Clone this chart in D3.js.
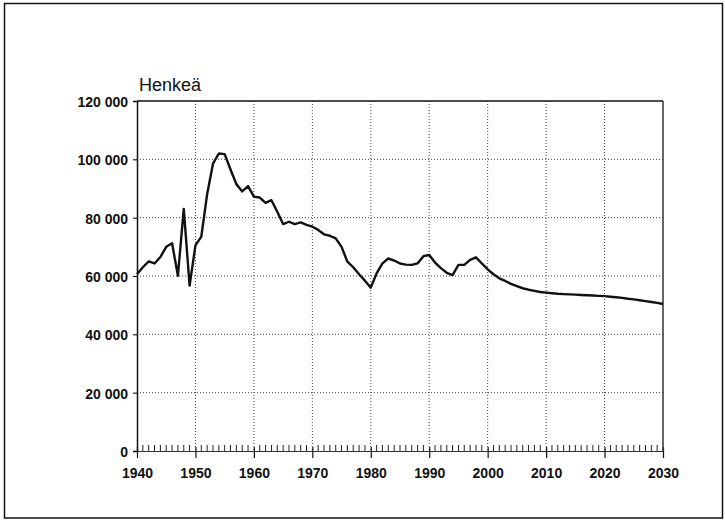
<!DOCTYPE html>
<html><head><meta charset="utf-8">
<script src="https://cdn.jsdelivr.net/npm/d3@7/dist/d3.min.js"></script>
<style>body{margin:0;background:#fff}svg{display:block}</style>
</head><body>
<svg id="c" width="725" height="521"></svg>
<script>
const years = d3.range(1940, 2031);
const values = [
 60600,63000,65000,64300,66500,70000,71200,60100,83000,56700,
 70500,73500,88000,98500,102000,101800,96500,91500,89000,90800,
 87200,86900,85100,86000,82000,77800,78600,77800,78400,77500,
 76900,75800,74300,73800,72900,70000,64900,63000,60600,58400,
 56000,60900,64300,66000,65300,64300,63900,63800,64300,66800,
 67200,64600,62700,61100,60300,63800,63800,65500,66400,64300,
 62300,60600,59200,58300,57300,56500,55800,55300,54900,54500,
 54300,54100,53900,53800,53700,53600,53500,53400,53300,53200,
 53100,52900,52700,52500,52200,52000,51700,51400,51100,50800,
 50400];
const xTicks = [1940,1950,1960,1970,1980,1990,2000,2010,2020,2030];
const yTicks = [0,20000,40000,60000,80000,100000,120000];
const yTitle = "Henkeä";

const svg = d3.select("#c");
const L = 137, R = 663, T = 101, B = 451;
const x = d3.scaleLinear().domain([1940, 2030]).range([L, R]);
const y = d3.scaleLinear().domain([0, 120000]).range([B, T]);
const fmt = v => d3.format(",")(v).replace(/,/g, " ");
const FONT = "Liberation Sans, Arial, Helvetica, sans-serif";

// outer frame
svg.append("rect").attr("x", 4.5).attr("y", 3.5).attr("width", 718).attr("height", 514.5)
  .attr("fill", "none").attr("stroke", "#111").attr("stroke-width", 1.5);

// gridlines
svg.append("g").selectAll("line").data(xTicks.filter(d => d > 1940 && d < 2030)).join("line")
  .attr("x1", d => x(d)).attr("x2", d => x(d)).attr("y1", T).attr("y2", B)
  .attr("stroke", "#444").attr("stroke-width", 1).attr("stroke-dasharray", "1,2");
svg.append("g").selectAll("line").data(yTicks.filter(d => d > 0 && d < 120000)).join("line")
  .attr("x1", L).attr("x2", R).attr("y1", d => y(d)).attr("y2", d => y(d))
  .attr("stroke", "#444").attr("stroke-width", 1).attr("stroke-dasharray", "1,2");

// y axis
const ya = svg.append("g").attr("transform", `translate(${L},0)`)
  .call(d3.axisLeft(y).tickValues(yTicks).tickFormat(fmt).tickSize(4).tickPadding(5));
ya.select(".domain").attr("stroke", "#111").attr("stroke-width", 1.5);
ya.selectAll("text").attr("font-family", FONT)
  .attr("font-size", 14).attr("font-weight", "bold").attr("fill", "#111").attr("dy", "0.4em");

// x axis: minor ticks inward, major ticks across
const xa = svg.append("g").attr("transform", `translate(0,${B})`)
  .call(d3.axisBottom(x).tickValues(xTicks).tickFormat(d3.format("d")).tickSize(7).tickPadding(10));
xa.select(".domain").attr("stroke", "#333").attr("stroke-width", 1);
xa.selectAll(".tick line").attr("y1", -4).attr("stroke", "#111").attr("stroke-width", 1.2);
xa.selectAll("text").attr("font-family", FONT)
  .attr("font-size", 14).attr("font-weight", "bold").attr("fill", "#111");
svg.append("g").selectAll("line").data(years.filter(d => d % 10 !== 0)).join("line")
  .attr("x1", d => x(d)).attr("x2", d => x(d)).attr("y1", B - 6).attr("y2", B)
  .attr("stroke", "#222").attr("stroke-width", 1);

// top and right frame
svg.append("line").attr("x1", L).attr("x2", R).attr("y1", T).attr("y2", T)
  .attr("stroke", "#111").attr("stroke-width", 1.5);
svg.append("line").attr("x1", R).attr("x2", R).attr("y1", T).attr("y2", B)
  .attr("stroke", "#333").attr("stroke-width", 1.5);

// title
svg.append("text").attr("x", 139).attr("y", 91).text(yTitle)
  .attr("font-family", FONT).attr("font-size", 18).attr("fill", "#111");

// line
svg.append("path").datum(years.map((yr, i) => [yr, values[i]]))
  .attr("d", d3.line().x(d => x(d[0])).y(d => y(d[1])))
  .attr("fill", "none").attr("stroke", "#111").attr("stroke-width", 2.4).attr("stroke-linejoin", "round");
</script>
</body></html>
